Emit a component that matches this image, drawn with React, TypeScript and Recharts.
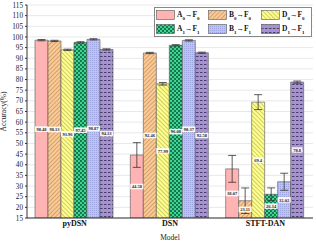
import {
  BarChart,
  Bar,
  XAxis,
  YAxis,
  CartesianGrid,
  ErrorBar,
  LabelList,
} from "recharts";

const categories = ["pyDSN", "DSN", "STFT-DAN"];
const yTicks = [15, 20, 25, 30, 35, 40, 45, 50, 55, 60, 65, 70, 75, 80, 85, 90, 95, 100, 105, 110, 115];

const a0 = [98.48, 44.58, 38.07];
const b0 = [98.13, 92.46, 23.11];
const d0 = [93.96, 77.99, 69.4];
const a1 = [97.45, 96.08, 26.14];
const b1 = [98.87, 98.37, 32.02];
const d1 = [94.13, 92.58, 78.8];

const a0Err = [0.3, 5.8, 6.3];
const b0Err = [0.3, 0.3, 6.0];
const d0Err = [0.3, 0.6, 3.5];
const a1Err = [0.3, 0.3, 3.0];
const b1Err = [0.3, 0.3, 4.0];
const d1Err = [0.3, 0.3, 0.5];

const data = categories.map((name, i) => ({
  name,
  a0: a0[i], a0e: a0Err[i],
  b0: b0[i], b0e: b0Err[i],
  d0: d0[i], d0e: d0Err[i],
  a1: a1[i], a1e: a1Err[i],
  b1: b1[i], b1e: b1Err[i],
  d1: d1[i], d1e: d1Err[i],
}));

const series = [
  { key: "a0", fill: "#FFB3B3", sub: ["A", "0", "F", "0"] },
  { key: "b0", fill: "url(#patB0)", sub: ["B", "0", "F", "0"] },
  { key: "d0", fill: "url(#patD0)", sub: ["D", "0", "F", "0"] },
  { key: "a1", fill: "url(#patA1)", sub: ["A", "1", "F", "1"] },
  { key: "b1", fill: "url(#patB1)", sub: ["B", "1", "F", "1"] },
  { key: "d1", fill: "url(#patD1)", sub: ["D", "1", "F", "1"] },
];

const FONT = "'Liberation Serif', 'Times New Roman', serif";

const valueLabel = (props: any) => {
  const { x, y, width, height, value } = props;
  const cx = x + width / 2;
  const cy = y + height / 2;
  const txt = String(value);
  const w = txt.length * 2.4 + 1.2;
  return (
    <g>
      <rect x={cx - w / 2} y={cy - 2.8} width={w} height={5.6} fill="#FFFFFF" opacity={0.9} />
      <text x={cx} y={cy + 1.7} textAnchor="middle" fontSize={4.5} fontWeight="bold" fill="#222" fontFamily={FONT}>
        {txt}
      </text>
    </g>
  );
};

function LegendBox() {
  return (
    <div
      style={{
        position: "absolute",
        left: 154,
        top: 7,
        width: 158,
        height: 30,
        background: "#fff",
        border: "1px solid #888",
        boxSizing: "border-box",
        display: "grid",
        gridTemplateColumns: "52px 53px 52px",
        gridTemplateRows: "14px 14px",
        fontFamily: FONT,
        fontWeight: "bold",
        fontSize: 7.5,
        color: "#111",
      }}
    >
      {series.map((s) => (
        <div key={s.key} style={{ display: "flex", alignItems: "center", paddingLeft: 1 }}>
          <svg width={19} height={10} style={{ marginRight: 2 }}>
            <rect x={0.5} y={0.5} width={18} height={9} fill={s.fill} stroke="#555" strokeWidth={0.6} />
          </svg>
          <span style={{ whiteSpace: "nowrap" }}>
            {s.sub[0]}
            <sub style={{ fontSize: 5 }}>{s.sub[1]}</sub>→{s.sub[2]}
            <sub style={{ fontSize: 5 }}>{s.sub[3]}</sub>
          </span>
        </div>
      ))}
    </div>
  );
}

export default function App() {
  return (
    <div style={{ position: "absolute", left: 0, top: 0, width: 316, height: 241, background: "#fff" }}>
      <BarChart
        width={316}
        height={241}
        data={data}
        margin={{ top: 5, right: 3, bottom: 0, left: 0 }}
        barCategoryGap={8}
        barGap={0}
      >
        <defs>
          <pattern id="patB0" width={3} height={3} patternUnits="userSpaceOnUse" patternTransform="rotate(45)">
            <rect width={3} height={3} fill="#F9CB98" />
            <line x1={0} y1={0} x2={0} y2={3} stroke="#B8743A" strokeWidth={1} />
          </pattern>
          <pattern id="patD0" width={3} height={3} patternUnits="userSpaceOnUse" patternTransform="rotate(-45)">
            <rect width={3} height={3} fill="#FFFF8A" />
            <line x1={0} y1={0} x2={0} y2={3} stroke="#8F8F50" strokeWidth={0.9} />
          </pattern>
          <pattern id="patA1" width={4} height={4} patternUnits="userSpaceOnUse">
            <rect width={4} height={4} fill="#3FD394" />
            <rect width={2} height={2} fill="#17784E" />
            <rect x={2} y={2} width={2} height={2} fill="#17784E" />
          </pattern>
          <pattern id="patB1" width={2} height={2} patternUnits="userSpaceOnUse">
            <rect width={2} height={2} fill="#BDC2F6" />
            <rect width={0.7} height={0.7} fill="#8087C8" />
          </pattern>
          <pattern id="patD1" width={4} height={4} patternUnits="userSpaceOnUse">
            <rect width={4} height={4} fill="#A493CC" />
            <rect x={0} y={0} width={2.5} height={1} fill="#4B3C72" />
          </pattern>
        </defs>
        <CartesianGrid vertical={false} stroke="#E2E2E2" strokeWidth={0.8} />
        <XAxis
          dataKey="name"
          interval={0}
          tickLine={false}
          tickSize={2}
          tickMargin={0}
          axisLine={{ stroke: "#333" }}
          height={23}
          tick={{ fontSize: 8, fontWeight: "bold", fill: "#111", fontFamily: FONT }}
          label={{ value: "Model", position: "insideBottom", offset: 1, style: { fontSize: 7.5, fill: "#222", fontFamily: FONT } }}
        />
        <XAxis xAxisId="top" orientation="top" height={0} tick={false} tickLine={false} axisLine={{ stroke: "#333" }} />
        <YAxis
          domain={[15, 115]}
          ticks={yTicks}
          interval={0}
          width={27}
          allowDataOverflow
          tickSize={2}
          tickLine={{ stroke: "#333" }}
          axisLine={{ stroke: "#333" }}
          tick={{ fontSize: 7.2, fill: "#222", fontFamily: FONT }}
          label={{
            value: "Accuracy(%)",
            angle: -90,
            position: "insideLeft",
            offset: 3,
            style: { fontSize: 7.5, fill: "#222", fontFamily: FONT, textAnchor: "middle" },
          }}
        />
        <YAxis yAxisId="right" orientation="right" width={0} tick={false} tickLine={false} axisLine={{ stroke: "#333" }} />
        {series.map((s) => (
          <Bar
            key={s.key}
            dataKey={s.key}
            fill={s.fill}
            stroke="#555"
            strokeWidth={0.6}
            isAnimationActive={false}
          >
            <ErrorBar dataKey={`${s.key}e`} width={4} stroke="#333" strokeWidth={0.8} />
            <LabelList dataKey={s.key} content={valueLabel} />
          </Bar>
        ))}
      </BarChart>
      <LegendBox />
    </div>
  );
}
